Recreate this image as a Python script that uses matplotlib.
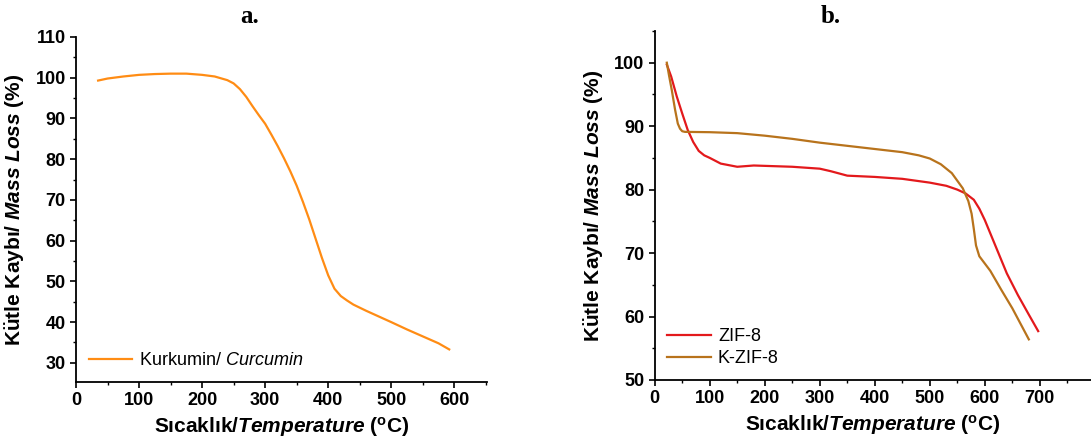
import matplotlib.pyplot as plt
from matplotlib.ticker import MultipleLocator

plt.rcParams['font.family'] = ['Liberation Sans', 'DejaVu Sans']
plt.rcParams['mathtext.fontset'] = 'custom'
plt.rcParams['mathtext.rm'] = 'Liberation Sans'
plt.rcParams['mathtext.it'] = 'Liberation Sans:italic'
plt.rcParams['mathtext.bf'] = 'Liberation Sans:bold'
plt.rcParams['mathtext.bfit'] = 'Liberation Sans:italic:bold'

# a. curcumin TGA
cur_t = [35, 50, 75, 100, 125, 150, 175, 200, 220, 240, 250, 260, 270, 280, 290, 300,
         310, 320, 330, 340, 350, 360, 370, 380, 390, 400, 410, 420, 430, 440,
         460, 480, 500, 525, 550, 575, 592]
cur_m = [99.3, 99.8, 100.3, 100.7, 100.9, 101.0, 101.0, 100.7, 100.3, 99.4, 98.6, 97.2,
         95.3, 93.0, 90.8, 88.7, 86.0, 83.2, 80.2, 77.0, 73.5, 69.5, 65.2, 60.5,
         55.8, 51.5, 48.2, 46.4, 45.3, 44.3, 42.8, 41.4, 40.0, 38.2, 36.5, 34.8, 33.3]

# b. ZIF-8 / K-ZIF-8 TGA
zif_t = [22, 30, 40, 50, 60, 70, 80, 90, 100, 120, 150, 180, 250, 300, 320, 350, 400,
         450, 500, 530, 550, 565, 580, 590, 600, 620, 640, 660, 680, 697]
zif_m = [99.7, 97.8, 94.7, 92.0, 89.4, 87.5, 86.1, 85.4, 85.0, 84.1, 83.6, 83.8, 83.6,
         83.3, 82.9, 82.2, 82.0, 81.7, 81.1, 80.6, 80.0, 79.4, 78.4, 77.0, 75.2, 71.0,
         66.8, 63.4, 60.3, 57.7]

kzif_t = [22, 26, 31, 37, 42, 46, 50, 55, 100, 150, 200, 250, 300, 350, 400, 450, 480,
          500, 520, 540, 560, 570, 576, 580, 584, 590, 610, 630, 650, 680]
kzif_m = [100.0, 98.0, 95.7, 92.6, 90.4, 89.6, 89.2, 89.1, 89.05, 88.9, 88.5, 88.0,
          87.4, 86.9, 86.4, 85.9, 85.4, 84.9, 84.0, 82.6, 80.2, 78.2, 76.2, 73.8,
          71.2, 69.5, 67.2, 64.2, 61.3, 56.4]

fig = plt.figure(figsize=(10.91, 4.45), dpi=100)
ax1 = fig.add_axes([0.0697, 0.1416, 0.3767, 0.7753])
ax2 = fig.add_axes([0.6001, 0.1461, 0.3999, 0.7843])

xlab = r'$\mathbf{S\imath cakl\imath k/}\mathbfit{Temperature}\mathbf{\ (^{o}C)}$'
ylab = r'$\mathbf{K\"utle\ Kayb\imath/\ }\mathbfit{Mass\ Loss}\mathbf{\ (\%)}$'

ax1.plot(cur_t, cur_m, color='#FF8C14', lw=1.6, label=r'Kurkumin/ $\mathit{Curcumin}$')
ax1.set_xlim(0, 652)
ax1.set_ylim(25.3, 110)
ax1.xaxis.set_major_locator(MultipleLocator(100))
ax1.xaxis.set_minor_locator(MultipleLocator(50))
ax1.yaxis.set_minor_locator(MultipleLocator(5))
ax1.set_yticks(range(30, 111, 10))

ax2.plot(zif_t, zif_m, color='#E3191C', lw=1.6, label='ZIF-8')
ax2.plot(kzif_t, kzif_m, color='#B8731C', lw=1.6, label='K-ZIF-8')
ax2.set_xlim(0, 793)
ax2.set_ylim(50, 105)
ax2.set_xticks(range(0, 701, 100))
ax2.xaxis.set_minor_locator(MultipleLocator(50))
ax2.set_yticks(range(50, 101, 10))
ax2.yaxis.set_minor_locator(MultipleLocator(5))

for ax in (ax1, ax2):
    ax.spines['top'].set_visible(False)
    ax.spines['right'].set_visible(False)
    ax.spines['left'].set_linewidth(1.3)
    ax.spines['bottom'].set_linewidth(1.3)
    ax.tick_params(which='major', direction='out', length=4, width=1.2, labelsize=13)
    ax.tick_params(which='minor', direction='out', length=2.5, width=1.0)
    for lab in ax.get_xticklabels() + ax.get_yticklabels():
        lab.set_fontweight('bold')
    ax.set_xlabel(xlab, fontsize=15, labelpad=4)
    ax.set_ylabel(ylab, fontsize=15, labelpad=6)
    ax.legend(loc='lower left', frameon=False, fontsize=13, handlelength=2.4,
              handletextpad=0.4, borderaxespad=0.3, labelspacing=0.3)

fig.text(0.229, 0.963, 'a.', ha='center', va='center', fontsize=18,
         fontweight='bold', family='Liberation Serif')
fig.text(0.761, 0.963, 'b.', ha='center', va='center', fontsize=18,
         fontweight='bold', family='Liberation Serif')

fig.savefig('out.png', dpi=100)
